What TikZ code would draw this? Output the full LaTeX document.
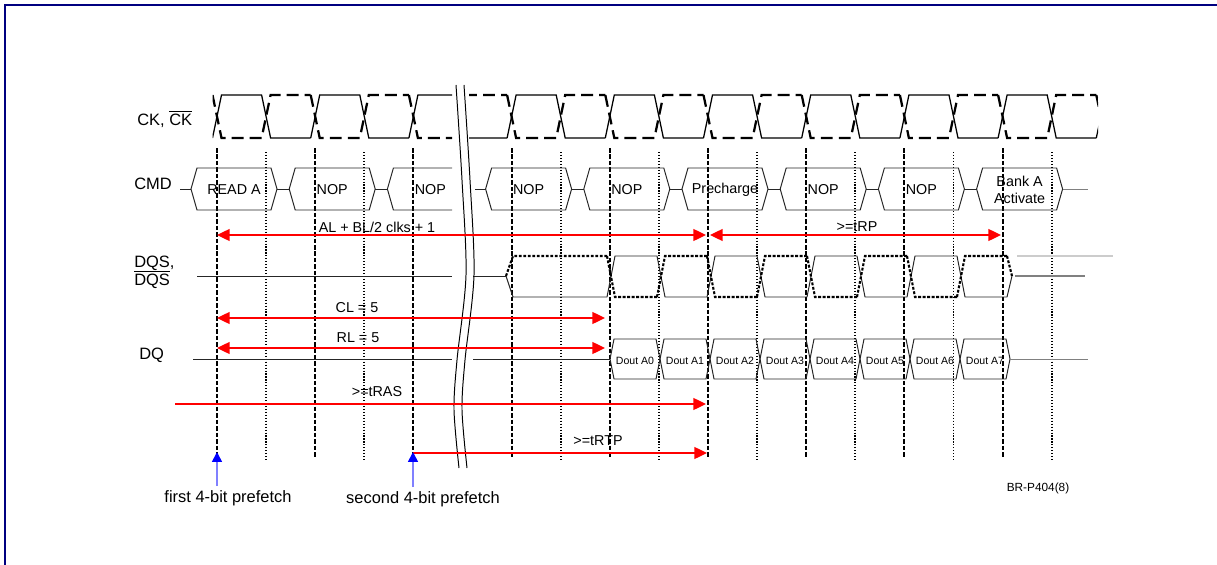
\documentclass[tikz,border=0pt]{standalone}
\usepackage{fontspec}
\setmainfont{Liberation Sans}
\usetikzlibrary{arrows.meta}
\definecolor{framenavy}{HTML}{000080}
\definecolor{timered}{HTML}{FF0000}
\definecolor{pfblue}{HTML}{0000FF}
\definecolor{pfshaft}{HTML}{8080FF}

\begin{document}
\begin{tikzpicture}[x=0.025cm,y=-0.025cm,>={Triangle[length=9pt,width=8.5pt]},
  ck/.style={line width=0.9pt},
  ckbar/.style={line width=1.6pt,dash pattern=on 8.5pt off 4.3pt},
  edgeline/.style={line width=1.3pt,dash pattern=on 3.2pt off 1.4pt},
  halfline/.style={line width=1.2pt,dash pattern=on 0.8pt off 1.3pt},
  sig/.style={line width=0.7pt,black!85},
  sigbar/.style={line width=1.5pt,dash pattern=on 2pt off 1.2pt},
  rowlbl/.style={font=\fontsize{11.7}{12.8}\selectfont,inner sep=0pt,anchor=west},
  boxlbl/.style={font=\fontsize{10.2}{12}\selectfont,inner sep=0pt},
  doutlbl/.style={font=\fontsize{7.5}{9}\selectfont,inner sep=0pt},
  timing/.style={timered,line width=1pt}]
  \useasboundingbox (0,0) rectangle (1217,565);
  \draw[framenavy,line width=1.4pt] (5,565) -- (5,5) -- (1217,5);
  % row labels
  \node[rowlbl] (cklbl) at (137,119) {CK, $\overline{\mbox{CK}}$};
  \node[rowlbl] (cmdlbl) at (134,184) {CMD};
  \node[rowlbl,align=left] (dqslbl) at (134,272) {DQS,\\$\overline{\mbox{DQS}}$};
  \node[rowlbl] (dqlbl) at (139,355) {DQ};
  % clock pair, broken at the gap
  \begin{scope}
    \clip (212.5,85) rectangle (452,150) (469,85) rectangle (1098,150);
    \foreach \k in {0,2,...,18}{
      \pgfmathsetmacro\tk{217+49.1*\k}
      \draw[ck] (\tk-4.5,138) -- (\tk+4.5,95) -- (\tk+44.6,95) -- (\tk+53.6,138) -- (\tk+93.7,138);
      \draw[ckbar] (\tk-4.5,95) -- (\tk+4.5,138) -- (\tk+44.6,138) -- (\tk+53.6,95) -- (\tk+93.7,95);
    }
  \end{scope}
  % reference lines at the clock edges
  \foreach \k in {0,2,...,16}
    \draw[edgeline] (217+49.1*\k,148) -- (217+49.1*\k,458);
  \foreach \k in {1,3,7,9,11,13,15,17}
    \draw[halfline] (217+49.1*\k,152) -- (217+49.1*\k,460);
  % commands
  \begin{scope}
    \clip (170,160) rectangle (452,215) (475,160) rectangle (1100,215);
    \foreach \j/\lab in {0/READ A,1/NOP,2/NOP,3/NOP,4/NOP,5/Precharge,6/NOP,7/NOP,8/{Bank A\\Activate}}{
      \pgfmathsetmacro\lx{191+98.2*\j}
      \coordinate (cmdw\j) at (\lx,189);
      \coordinate (cmde\j) at (\lx+86,189);
      \draw[sig] (cmdw\j) -- (\lx+6,168) -- (\lx+80,168) -- (cmde\j) -- (\lx+80,210) -- (\lx+6,210) -- cycle;
      \node[boxlbl,align=center] (cmd\j) at (\lx+43,190) {\lab};
    }
    \foreach \j [count=\n from 1] in {0,...,7}
      \draw[sig] (cmde\j) -- (cmdw\n);
  \end{scope}
  \draw[sig] (180,189) -- (cmdw0);
  \draw[sig,gray] (cmde8) -- (1088,189);
  % DQS pair
  \draw[sig] (197,276) -- (452,276);
  \coordinate (dqsw) at (506,276);
  \draw[sig] (473,276) -- (dqsw);
  \draw[sig] (dqsw) -- (513,297) -- (607,297);
  \draw[sigbar] (dqsw) -- (513,256) -- (607,256);
  \foreach \k in {0,...,7}{
    \pgfmathsetmacro\cx{611+50*\k}
    \pgfmathsetmacro\ya{mod(\k,2)==0 ? 297 : 256}
    \pgfmathsetmacro\yb{mod(\k,2)==0 ? 256 : 297}
    \draw[sig] (\cx-4,\ya) -- (\cx+4,\yb) -- (\cx+46,\yb);
    \draw[sigbar] (\cx-4,\yb) -- (\cx+4,\ya) -- (\cx+46,\ya);
  }
  \coordinate (dqse) at (1012,276);
  \draw[sig] (1007,297) -- (dqse);
  \draw[sigbar] (1007,256) -- (dqse);
  \draw[gray,line width=0.8pt] (1015,276) -- (1085,276);
  \draw[black!20,line width=0.8pt] (1017,256) -- (1113,256);
  % data burst
  \draw[sig] (193,359) -- (452,359);
  \draw[sig] (473,359) -- (610,359);
  \foreach \k in {0,...,7}{
    \pgfmathsetmacro\qx{610+50*\k}
    \draw[sig] (\qx,359) -- (\qx+4,339) -- (\qx+46,339) -- (\qx+50,359) -- (\qx+46,379) -- (\qx+4,379) -- cycle;
    \node[doutlbl] (dq\k) at (\qx+25,361) {Dout A\k};
  }
  \draw[sig,gray] (1010,359) -- (1088,359);
  % break marks
  \foreach \d in {0,8}
    \draw[line width=0.7pt] plot[smooth] coordinates {(456+\d,85) (462+\d,180) (466+\d,275) (457+\d,360) (454+\d,410) (459+\d,468)};
  % timing arrows
  \coordinate (al0) at (217,235); \coordinate (al1) at (706,235);
  \coordinate (rp0) at (710,235); \coordinate (rp1) at (1001,235);
  \coordinate (cl0) at (217,318); \coordinate (cl1) at (605,318);
  \coordinate (rl0) at (217,348); \coordinate (rl1) at (605,348);
  \coordinate (ras0) at (175,404); \coordinate (ras1) at (706,404);
  \coordinate (rtp0) at (413,453); \coordinate (rtp1) at (707,453);
  \draw[timing,<->] (al0) -- (al1);
  \draw[timing,<->] (rp0) -- (rp1);
  \draw[timing,<->] (cl0) -- (cl1);
  \draw[timing,<->] (rl0) -- (rl1);
  \draw[timing,->] (ras0) -- (ras1);
  \draw[timing,->] (rtp0) -- (rtp1);
  \node[boxlbl] (allbl) at (377,227) {AL + BL/2 clks + 1};
  \node[boxlbl] (rplbl) at (857,227) {>=tRP};
  \node[boxlbl] (cllbl) at (357,308) {CL = 5};
  \node[boxlbl] (rllbl) at (358,338) {RL = 5};
  \node[boxlbl] (raslbl) at (377,392) {>=tRAS};
  \node[boxlbl] (rtplbl) at (598,441) {>=tRTP};
  % prefetch markers
  \coordinate (pf0) at (217,486); \coordinate (pf0tip) at (217,452);
  \coordinate (pf1) at (413,487); \coordinate (pf1tip) at (413,452);
  \draw[pfshaft,line width=1.2pt,-{Triangle[length=7pt,width=7pt,color=pfblue]}] (pf0) -- (pf0tip);
  \draw[pfshaft,line width=1.2pt,-{Triangle[length=7pt,width=7pt,color=pfblue]}] (pf1) -- (pf1tip);
  \node[rowlbl,anchor=center] (pf0lbl) at (228,498) {first 4-bit prefetch};
  \node[rowlbl,anchor=center] (pf1lbl) at (423,499) {second 4-bit prefetch};
  \node[font=\fontsize{8.4}{10}\selectfont,inner sep=0pt] (figid) at (1038,488) {BR-P404(8)};
\end{tikzpicture}
\end{document}
